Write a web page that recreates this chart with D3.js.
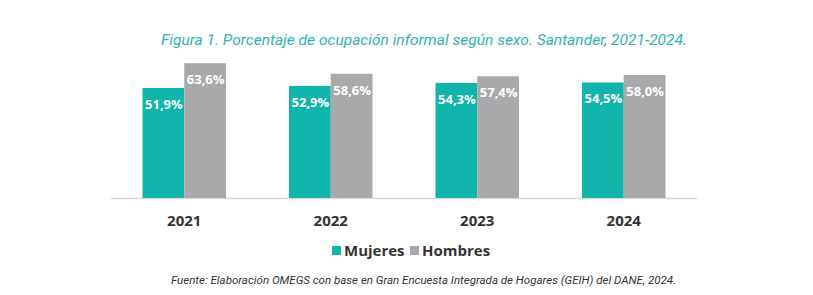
<!DOCTYPE html>
<html>
<head>
<meta charset="utf-8">
<script src="https://cdn.jsdelivr.net/npm/d3@7"></script>
<style>
  body { margin: 0; background: #fff; }
  svg { display: block; }
</style>
</head>
<body>
<div id="chart"></div>
<script>
// data
const years = ["2021", "2022", "2023", "2024"];
const series = ["Mujeres", "Hombres"];
const mujeres = [51.9, 52.9, 54.3, 54.5];
const hombres = [63.6, 58.6, 57.4, 58.0];

const width = 813, height = 295;
const colors = { Mujeres: "#12b5ab", Hombres: "#a9a9ac" };

const data = years.map((y, i) => ({ year: y, Mujeres: mujeres[i], Hombres: hombres[i] }));

const svg = d3.select("#chart").append("svg")
  .attr("width", width)
  .attr("height", height);

// title
svg.append("text")
  .attr("x", 161)
  .attr("y", 45)
  .attr("textLength", 526)
  .attr("lengthAdjust", "spacingAndGlyphs")
  .style("font-family", "Roboto, sans-serif")
  .style("font-style", "italic")
  .style("font-size", "15px")
  .style("fill", "#2fb3b0")
  .text("Figura 1. Porcentaje de ocupación informal según sexo. Santander, 2021-2024.");

// scales
const x0 = d3.scaleBand()
  .domain(years)
  .range([111, 697])
  .paddingInner(0.43)
  .paddingOuter(0.215);

const x1 = d3.scaleBand()
  .domain(series)
  .range([0, x0.bandwidth()]);

const y = d3.scaleLinear()
  .domain([0, 70])
  .range([198, 49.6]);

// baseline
svg.append("line")
  .attr("x1", 111).attr("x2", 697)
  .attr("y1", y(0) + 0.5).attr("y2", y(0) + 0.5)
  .attr("stroke", "#d9d9d9")
  .attr("stroke-width", 1.5);

// bars
const groups = svg.append("g")
  .selectAll("g")
  .data(data)
  .join("g")
    .attr("transform", d => "translate(" + x0(d.year) + ",0)");

groups.selectAll("rect")
  .data(d => series.map(k => ({ key: k, value: d[k] })))
  .join("rect")
    .attr("x", d => x1(d.key))
    .attr("y", d => y(d.value))
    .attr("width", x1.bandwidth())
    .attr("height", d => y(0) - y(d.value))
    .attr("fill", d => colors[d.key]);

// value labels
groups.selectAll("text.val")
  .data(d => series.map(k => ({ key: k, value: d[k] })))
  .join("text")
    .attr("class", "val")
    .attr("x", d => x1(d.key) + x1.bandwidth() / 2 + 0.5)
    .attr("y", d => y(d.value) + 21)
    .attr("text-anchor", "middle")
    .style("font-family", "'Open Sans', sans-serif")
    .style("font-weight", "700")
    .style("font-size", "13px")
    .style("fill", "#fff")
    .text(d => d.value.toFixed(1).replace(".", ",") + "%");

// year axis labels
const xAxis = svg.append("g")
  .attr("transform", "translate(0," + y(0) + ")")
  .call(d3.axisBottom(x0).tickSize(0).tickPadding(17));
xAxis.select(".domain").remove();
xAxis.selectAll("text")
  .style("font-family", "'Open Sans', sans-serif")
  .style("font-weight", "700")
  .style("font-size", "15px")
  .style("fill", "#333");

// legend
const legendItems = [
  { key: "Mujeres", x: 332 },
  { key: "Hombres", x: 410 }
];
const legend = svg.append("g")
  .selectAll("g")
  .data(legendItems)
  .join("g")
    .attr("transform", d => "translate(" + d.x + ",246)");
legend.append("rect")
  .attr("width", 9)
  .attr("height", 9)
  .attr("fill", d => colors[d.key]);
legend.append("text")
  .attr("x", 12)
  .attr("y", 10)
  .style("font-family", "'Open Sans', sans-serif")
  .style("font-weight", "700")
  .style("font-size", "15px")
  .style("fill", "#333")
  .text(d => d.key);

// source note
svg.append("text")
  .attr("x", 171)
  .attr("y", 284)
  .attr("textLength", 505)
  .attr("lengthAdjust", "spacingAndGlyphs")
  .style("font-family", "Roboto, sans-serif")
  .style("font-style", "italic")
  .style("font-size", "11px")
  .style("fill", "#333")
  .text("Fuente: Elaboración OMEGS con base en Gran Encuesta Integrada de Hogares (GEIH) del DANE, 2024.");
</script>
</body>
</html>
